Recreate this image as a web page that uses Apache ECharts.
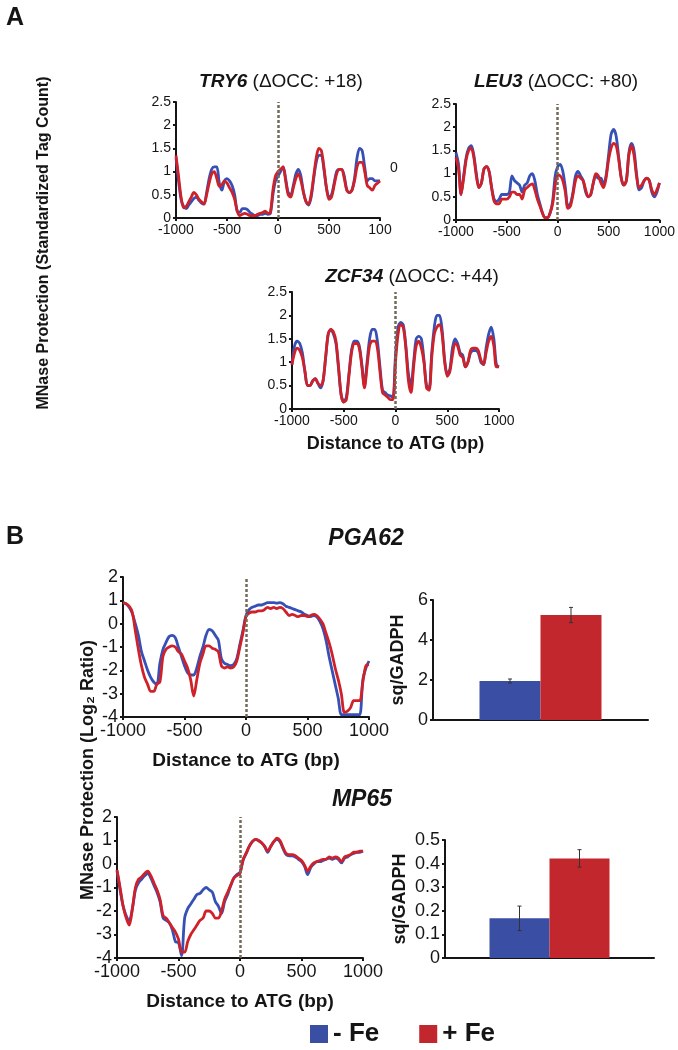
<!DOCTYPE html>
<html>
<head>
<meta charset="utf-8">
<script src="https://cdn.jsdelivr.net/npm/echarts/dist/echarts.min.js"></script>
<style>
html, body { margin: 0; padding: 0; background: #fff; }
#chart { width: 678px; height: 1050px; }
</style>
</head>
<body>
<div id="chart"></div>
<script>
// distance to ATG (bp), one reading every 25 bp
var positions = [];
for (var p = -1000; p <= 1000; p += 25) positions.push(p);

// panel A: standardized tag count, - Fe (blue) / + Fe (red)
var try6Minus = [1.3,0.8,0.4,0.25,0.2,0.28,0.35,0.42,0.45,0.38,0.32,0.3,0.55,0.85,1.05,1.1,1.1,0.75,0.6,0.8,0.85,0.8,0.7,0.5,0.15,0.12,0.2,0.2,0.18,0.12,0.08,0.05,0.05,0.08,0.08,0.1,0.08,0.1,0.5,0.8,0.9,1.0,1.1,0.85,0.55,0.5,0.7,0.95,1.05,0.9,0.55,0.35,0.28,0.45,0.85,1.2,1.35,1.35,1.05,0.65,0.45,0.5,0.75,1.0,1.05,1.05,0.9,0.6,0.55,0.6,0.85,1.3,1.5,1.45,1.1,0.8,0.85,0.85,0.8,0.8,0.8];
var try6Plus = [1.35,0.9,0.45,0.22,0.25,0.35,0.45,0.55,0.5,0.4,0.35,0.3,0.5,0.75,0.95,1.0,0.85,0.68,0.72,0.8,0.75,0.65,0.55,0.4,0.15,0.05,0.08,0.1,0.08,0.05,0.05,0.05,0.08,0.1,0.12,0.15,0.1,0.12,0.6,0.9,1.0,1.05,1.1,0.8,0.5,0.45,0.65,0.85,0.95,0.8,0.55,0.35,0.3,0.5,0.9,1.3,1.5,1.45,1.1,0.65,0.4,0.45,0.7,0.95,1.05,1.05,0.85,0.6,0.55,0.6,0.8,1.1,1.2,1.2,1.0,0.7,0.65,0.6,0.7,0.75,0.8];
var leu3Minus = [1.45,1.2,0.55,0.95,1.35,1.55,1.6,1.4,1.0,0.7,0.8,1.1,1.15,1.05,0.7,0.45,0.4,0.45,0.55,0.55,0.55,0.6,0.95,0.85,0.8,0.75,0.6,0.75,0.8,0.95,1.0,0.85,0.55,0.35,0.15,0.05,0.05,0.15,0.4,0.95,1.15,1.2,1.05,0.7,0.3,0.35,0.6,0.95,1.05,0.95,0.85,0.6,0.5,0.55,0.8,0.95,0.9,0.9,0.75,0.95,1.4,1.85,1.95,1.8,1.35,0.9,0.75,0.85,1.45,1.65,1.5,1.0,0.65,0.7,0.85,0.9,0.85,0.6,0.5,0.6,0.8];
var leu3Plus = [1.35,1.1,0.55,0.9,1.3,1.5,1.55,1.35,0.95,0.7,0.8,1.1,1.15,1.05,0.7,0.4,0.35,0.35,0.45,0.45,0.45,0.5,0.6,0.6,0.55,0.55,0.45,0.65,0.7,0.75,0.78,0.65,0.45,0.3,0.15,0.05,0.05,0.15,0.35,0.75,0.97,0.95,0.85,0.6,0.25,0.3,0.55,0.85,0.95,0.9,0.85,0.65,0.5,0.55,0.8,1.0,0.95,0.8,0.7,0.9,1.3,1.55,1.65,1.6,1.3,0.9,0.75,0.85,1.4,1.6,1.4,0.95,0.7,0.75,0.85,0.9,0.85,0.65,0.55,0.65,0.8];
var zcf34Minus = [0.95,1.35,1.45,1.4,1.2,0.8,0.5,0.5,0.6,0.65,0.55,0.45,0.6,1.1,1.6,1.7,1.6,1.4,0.85,0.3,0.15,0.25,0.75,1.25,1.45,1.45,1.35,0.95,0.5,1.0,1.5,1.7,1.7,1.45,0.9,0.4,0.35,0.3,0.28,0.25,1.15,1.75,1.85,1.8,1.35,0.75,0.5,1.0,1.5,1.55,1.5,1.05,0.5,0.45,1.2,1.75,2.0,2.0,1.7,1.05,0.75,0.85,1.3,1.5,1.4,1.2,1.15,0.9,1.0,1.2,1.25,1.25,1.2,1.0,0.95,1.3,1.6,1.75,1.5,0.95,0.9];
var zcf34Plus = [0.95,1.2,1.3,1.25,1.1,0.8,0.5,0.5,0.6,0.65,0.55,0.5,0.6,1.1,1.6,1.7,1.65,1.45,0.9,0.3,0.15,0.2,0.7,1.2,1.4,1.4,1.3,0.9,0.45,0.9,1.35,1.45,1.45,1.3,0.8,0.35,0.3,0.25,0.2,0.2,1.0,1.6,1.8,1.75,1.3,0.6,0.35,0.9,1.35,1.45,1.3,1.0,0.45,0.4,1.1,1.6,1.75,1.8,1.6,1.0,0.7,0.8,1.15,1.4,1.35,1.15,1.1,0.9,1.0,1.25,1.3,1.3,1.25,1.05,0.95,1.2,1.45,1.55,1.35,0.9,0.9];

// panel B: MNase protection, log2 ratio
var pga62Minus = [0.9,0.85,0.7,0.45,0.0,-0.5,-1.2,-1.6,-2.0,-2.3,-2.5,-2.6,-1.7,-1.1,-0.8,-0.55,-0.5,-0.6,-1.0,-1.4,-1.8,-2.1,-2.2,-2.2,-1.9,-1.4,-1.0,-0.5,-0.25,-0.3,-0.5,-0.7,-1.5,-1.7,-1.75,-1.8,-1.75,-1.5,-0.9,-0.3,0.35,0.6,0.7,0.75,0.8,0.8,0.85,0.9,0.9,0.9,0.88,0.9,0.85,0.75,0.7,0.65,0.6,0.55,0.5,0.4,0.35,0.3,0.35,0.3,0.1,-0.2,-0.7,-1.4,-2.0,-2.6,-3.2,-3.9,-3.9,-3.9,-3.9,-3.9,-3.9,-3.9,-2.4,-1.9,-1.6];
var pga62Plus = [0.9,0.85,0.75,0.5,-0.3,-1.1,-1.8,-2.3,-2.6,-2.9,-2.9,-2.6,-2.5,-1.4,-1.1,-1.0,-0.95,-1.0,-1.2,-1.3,-1.6,-1.9,-2.4,-3.1,-2.4,-1.7,-1.3,-0.95,-0.95,-1.05,-1.1,-1.2,-1.8,-1.9,-1.85,-1.9,-1.85,-1.6,-1.0,-0.4,0.3,0.45,0.5,0.5,0.55,0.55,0.6,0.7,0.65,0.7,0.65,0.7,0.65,0.5,0.35,0.4,0.35,0.3,0.35,0.35,0.3,0.35,0.4,0.35,0.2,0.0,-0.4,-0.8,-1.3,-1.9,-2.4,-3.0,-3.8,-3.75,-3.6,-3.3,-3.3,-3.3,-2.5,-1.8,-1.75];
var mp65Minus = [-0.3,-1.1,-1.8,-2.2,-2.4,-1.9,-1.1,-0.8,-0.65,-0.5,-0.4,-0.6,-0.9,-1.2,-1.6,-2.3,-2.4,-2.5,-2.8,-3.3,-3.35,-3.9,-2.3,-1.9,-1.7,-1.5,-1.3,-1.25,-1.1,-1.0,-1.1,-1.2,-1.6,-1.8,-2.1,-1.6,-1.3,-0.9,-0.6,-0.45,-0.35,0.15,0.45,0.75,0.95,1.05,1.0,0.9,0.75,0.5,0.75,0.95,1.05,0.95,0.65,0.4,0.35,0.35,0.3,0.2,0.1,-0.1,-0.45,-0.15,0.0,0.1,0.1,0.15,0.2,0.25,0.2,0.25,0.2,0.05,0.25,0.3,0.4,0.45,0.5,0.5,0.55];
var mp65Plus = [-0.25,-1.0,-1.8,-2.3,-2.6,-1.9,-1.0,-0.65,-0.55,-0.4,-0.3,-0.5,-0.8,-1.1,-1.5,-2.2,-2.3,-2.5,-2.7,-2.9,-3.2,-3.75,-3.75,-3.3,-3.0,-2.8,-2.6,-2.4,-2.3,-2.0,-2.0,-2.1,-2.3,-2.3,-2.0,-1.5,-1.2,-0.9,-0.6,-0.5,-0.4,0.2,0.45,0.75,0.95,1.05,1.0,0.9,0.75,0.55,0.75,0.95,1.1,1.0,0.7,0.45,0.4,0.4,0.35,0.25,0.15,-0.05,-0.3,-0.1,0.05,0.1,0.15,0.2,0.2,0.3,0.25,0.3,0.25,0.1,0.3,0.35,0.4,0.5,0.5,0.55,0.55];

// qPCR, sq/GADPH: [- Fe, + Fe] and error bars
var pga62Bars = [1.95, 5.25];
var pga62Err = [0.1, 0.38];
var mp65Bars = [0.168, 0.422];
var mp65Err = [0.052, 0.037];

var seriesNames = ['- Fe', '+ Fe'];
var BLUE = '#3650b5', RED = '#cf2129';
var BAR_BLUE = '#3a4ea3', BAR_RED = '#c1272d';
var FONT = 'Liberation Sans, Arial, sans-serif';
var INK = '#151515';

function pairs(vals) {
    return vals.map(function (v, i) { return [positions[i], v]; });
}

var grids = [
    {left: 176, top: 102, width: 204, height: 116},   // TRY6
    {left: 456, top: 104, width: 204, height: 116},   // LEU3
    {left: 292, top: 292, width: 207, height: 117},   // ZCF34
    {left: 123, top: 577, width: 246, height: 140},   // PGA62 profile
    {left: 117, top: 817, width: 246, height: 141},   // MP65 profile
    {left: 433, top: 600, width: 215, height: 120},   // PGA62 bars
    {left: 445, top: 840, width: 209, height: 118}    // MP65 bars
];

function axisLine() {
    return {show: true, onZero: false, lineStyle: {color: INK, width: 2}};
}

function plainNum(v) { return String(v); }

function profileX(gi, fs, fmt, name) {
    return {
        gridIndex: gi, type: 'value', min: -1000, max: 1000, interval: 500,
        axisLine: axisLine(),
        axisTick: {show: true, length: 3, lineStyle: {color: INK, width: 2}},
        axisLabel: {fontSize: fs, color: INK, fontFamily: FONT, margin: 5, formatter: fmt || plainNum},
        splitLine: {show: false},
        name: name || '', nameLocation: 'middle', nameGap: fs === 14 ? 26 : 34,
        nameTextStyle: {fontSize: fs === 14 ? 18 : 19, fontWeight: 'bold', color: INK, fontFamily: FONT}
    };
}

function valueY(gi, min, max, step, fs, name, gap) {
    return {
        gridIndex: gi, type: 'value', min: min, max: max, interval: step,
        axisLine: axisLine(),
        axisTick: {show: true, length: 3, lineStyle: {color: INK, width: 2}},
        axisLabel: {fontSize: fs, color: INK, fontFamily: FONT, margin: 5},
        splitLine: {show: false},
        name: name || '', nameLocation: 'middle', nameGap: gap || 0, nameRotate: 90,
        nameTextStyle: {fontSize: 18, fontWeight: 'bold', color: INK, fontFamily: FONT}
    };
}

function barX(gi) {
    return {
        gridIndex: gi, type: 'category', data: [''],
        axisLine: axisLine(), axisTick: {show: false}, axisLabel: {show: false}
    };
}

var zeroLine = {
    silent: true, symbol: ['none', 'none'], label: {show: false},
    lineStyle: {color: '#75695a', type: [3, 2], width: 2.5},
    data: [{xAxis: 0}]
};

function profile(gi, minus, plus, w) {
    return [
        {name: seriesNames[0], type: 'line', xAxisIndex: gi, yAxisIndex: gi, data: pairs(minus),
         showSymbol: false, symbol: 'none', smooth: 0.3, lineStyle: {color: BLUE, width: w},
         itemStyle: {color: BLUE}, markLine: zeroLine, z: 3},
        {name: seriesNames[1], type: 'line', xAxisIndex: gi, yAxisIndex: gi, data: pairs(plus),
         showSymbol: false, symbol: 'none', smooth: 0.3, lineStyle: {color: RED, width: w},
         itemStyle: {color: RED}, z: 4}
    ];
}

function bars(gi, vals, errs, bw) {
    return [
        {name: seriesNames[0], type: 'bar', xAxisIndex: gi, yAxisIndex: gi, data: [vals[0]],
         barWidth: bw, barGap: '0%', itemStyle: {color: BAR_BLUE}},
        {name: seriesNames[1], type: 'bar', xAxisIndex: gi, yAxisIndex: gi, data: [vals[1]],
         barWidth: bw, barGap: '0%', itemStyle: {color: BAR_RED}},
        {type: 'custom', xAxisIndex: gi, yAxisIndex: gi, z: 10,
         data: [[0, vals[0], errs[0], -1], [0, vals[1], errs[1], 1]],
         renderItem: function (params, api) {
             var c = api.value(0), v = api.value(1), e = api.value(2);
             var x = api.coord([c, v])[0] + api.value(3) * bw / 2;
             var y1 = api.coord([c, v + e])[1], y2 = api.coord([c, v - e])[1];
             var st = {stroke: '#333', lineWidth: 1};
             return {type: 'group', children: [
                 {type: 'line', shape: {x1: x, y1: y1, x2: x, y2: y2}, style: st},
                 {type: 'line', shape: {x1: x - 2, y1: y1, x2: x + 2, y2: y1}, style: st},
                 {type: 'line', shape: {x1: x - 2, y1: y2, x2: x + 2, y2: y2}, style: st}
             ]};
         }}
    ];
}

function geneTitle(x, y, gene, occ) {
    return {type: 'text', x: x, y: y, style: {
        text: '{g|' + gene + '} (ΔOCC: ' + occ + ')',
        rich: {g: {fontStyle: 'italic', fontWeight: 'bold', fontSize: 19, fontFamily: FONT, fill: INK}},
        fontSize: 19, fontFamily: FONT, fill: INK, align: 'center', verticalAlign: 'middle'}};
}

function label(x, y, txt, fs, weight, italic, rot) {
    return {type: 'text', x: x, y: y, rotation: rot || 0, style: {
        text: txt, fontSize: fs, fontFamily: FONT, fill: INK,
        fontWeight: weight, fontStyle: italic ? 'italic' : 'normal',
        align: 'center', verticalAlign: 'middle'}};
}

var dom = document.getElementById('chart');
var myChart = echarts.init(dom);
var option = {
    animation: false,
    backgroundColor: '#fff',
    grid: grids,
    xAxis: [
        profileX(0, 14, function (v) { return v === 1000 ? '100' : String(v); }),
        profileX(1, 14),
        profileX(2, 14, null, 'Distance to ATG (bp)'),
        profileX(3, 18, null, 'Distance to ATG (bp)'),
        profileX(4, 18, null, 'Distance to ATG (bp)'),
        barX(5),
        barX(6)
    ],
    yAxis: [
        valueY(0, 0, 2.5, 0.5, 14),
        valueY(1, 0, 2.5, 0.5, 14),
        valueY(2, 0, 2.5, 0.5, 14),
        valueY(3, -4, 2, 1, 18),
        valueY(4, -4, 2, 1, 18),
        valueY(5, 0, 6, 2, 18, 'sq/GADPH', 26),
        valueY(6, 0, 0.5, 0.1, 18, 'sq/GADPH', 36)
    ],
    legend: {
        data: seriesNames, left: 305, top: 1016, icon: 'rect', itemWidth: 18, itemHeight: 18,
        itemGap: 40, selectedMode: false,
        textStyle: {fontSize: 26, fontWeight: 'bold', color: INK, fontFamily: FONT}
    },
    series: [].concat(
        bars(5, pga62Bars, pga62Err, 61),
        bars(6, mp65Bars, mp65Err, 60),
        profile(0, try6Minus, try6Plus, 2.8),
        profile(1, leu3Minus, leu3Plus, 2.8),
        profile(2, zcf34Minus, zcf34Plus, 2.8),
        profile(3, pga62Minus, pga62Plus, 2.8),
        profile(4, mp65Minus, mp65Plus, 2.8)
    ),
    graphic: [
        label(15, 18, 'A', 25, 'bold'),
        label(15, 537, 'B', 25, 'bold'),
        geneTitle(281, 82, 'TRY6', '+18'),
        geneTitle(556, 82, 'LEU3', '+80'),
        geneTitle(412, 277, 'ZCF34', '+44'),
        label(366, 539, 'PGA62', 23, 'bold', true),
        label(362, 800, 'MP65', 23, 'bold', true),
        label(394, 168, '0', 14, 'normal'),
        label(44, 243, 'MNase Protection (Standardized Tag Count)', 16, 'bold', false, Math.PI / 2),
        label(88, 770, 'MNase Protection (Log₂ Ratio)', 18, 'bold', false, Math.PI / 2)
    ]
};
myChart.setOption(option, true);
</script>
</body>
</html>
